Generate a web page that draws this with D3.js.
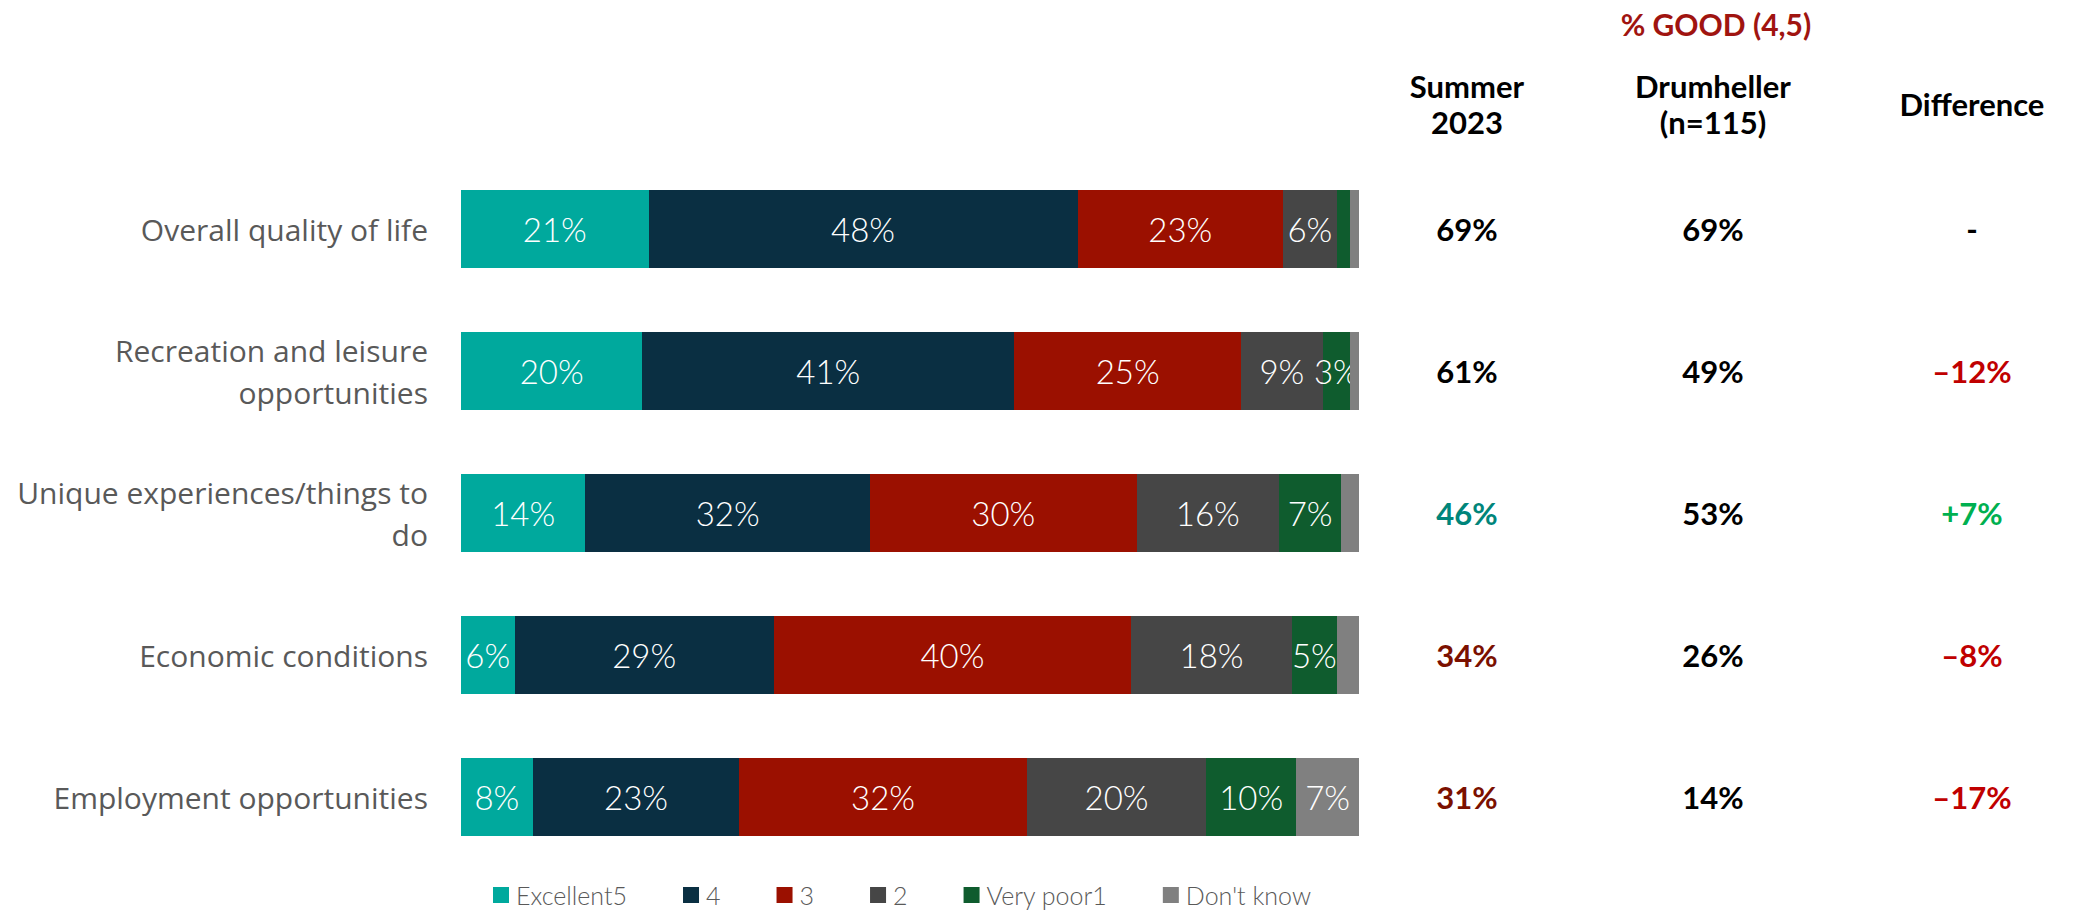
<!DOCTYPE html>
<html>
<head>
<meta charset="utf-8">
<script src="https://cdn.jsdelivr.net/npm/d3@7"></script>
<style>
  html, body { margin: 0; padding: 0; background: #ffffff; }
  svg { display: block; }
</style>
</head>
<body>
<svg id="chart" width="2073" height="913"></svg>
<script>
// Rating categories, top to bottom
const categories = [
  "Overall quality of life",
  "Recreation and leisure opportunities",
  "Unique experiences/things to do",
  "Economic conditions",
  "Employment opportunities"
];

// Response shares (%) per rating, one array per series
const seriesNames = ["Excellent5", "4", "3", "2", "Very poor1", "Don't know"];
const excellent5 = [21, 20, 14, 6, 8];
const rating4    = [48, 41, 32, 29, 23];
const rating3    = [23, 25, 30, 40, 32];
const rating2    = [6, 9, 16, 18, 20];
const veryPoor1  = [1.5, 3, 7, 5, 10];
const dontKnow   = [1, 1, 2, 2.5, 7];

// % good (4,5) comparison columns
const summer2023 = [69, 61, 46, 34, 31];
const summerFlag = ["", "", "up", "down", "down"];
const drumheller = [69, 49, 53, 26, 14];

const headerTitle = "% GOOD (4,5)";
const colSummer = ["Summer", "2023"];
const colDrum = ["Drumheller", "(n=115)"];
const colDiff = ["Difference"];

const seriesColors = ["#00a99d", "#0a2f42", "#9b1000", "#464646", "#0f5c2e", "#808080"];

// ---- build table for the stack layout
const allSeries = [excellent5, rating4, rating3, rating2, veryPoor1, dontKnow];
const rows = categories.map((c, i) => {
  const r = { category: c };
  seriesNames.forEach((s, j) => { r[s] = allSeries[j][i]; });
  return r;
});

const stack = d3.stack().keys(seriesNames).offset(d3.stackOffsetExpand);
const layers = stack(rows);

const svg = d3.select("#chart");

const x = d3.scaleLinear().domain([0, 1]).range([461, 1359]);
const y = d3.scaleBand().domain(categories).range([158, 868])
  .paddingInner(0.45).paddingOuter(0.225);

const color = d3.scaleOrdinal().domain(seriesNames).range(seriesColors);

// ---- stacked bars
const layerG = svg.append("g").selectAll("g")
  .data(layers).join("g")
  .attr("fill", d => color(d.key));

layerG.selectAll("rect")
  .data(d => d.map(p => ({ p, key: d.key })))
  .join("rect")
  .attr("x", d => x(d.p[0]))
  .attr("y", d => y(d.p.data.category))
  .attr("width", d => x(d.p[1]) - x(d.p[0]))
  .attr("height", y.bandwidth())
  .attr("shape-rendering", "crispEdges");

// ---- value labels inside segments (whole percentages of 3 or more)
layerG.selectAll("text")
  .data(d => d.map(p => ({ p, key: d.key, v: p.data[d.key] })).filter(d => d.v >= 3))
  .join("text")
  .attr("x", d => (x(d.p[0]) + x(d.p[1])) / 2)
  .attr("y", d => y(d.p.data.category) + y.bandwidth() / 2)
  .attr("text-anchor", "middle")
  .attr("dominant-baseline", "central")
  .attr("fill", "#ffffff")
  .style("font-family", "Lato, sans-serif")
  .style("font-weight", 300)
  .style("font-size", "33px")
  .text(d => d.v + "%");

// ---- category labels (wrapped, right aligned)
const catG = svg.append("g");
const labelFont = "30px 'Open Sans'";
const measureCtx = document.createElement("canvas").getContext("2d");
measureCtx.font = labelFont;
function wrap(text, maxW) {
  const words = text.split(" ");
  const lines = [];
  let line = "";
  words.forEach(w => {
    const t = line ? line + " " + w : w;
    if (measureCtx.measureText(t).width > maxW && line) { lines.push(line); line = w; }
    else line = t;
  });
  lines.push(line);
  return lines;
}
const lineGap = 42;
categories.forEach(c => {
  const lines = wrap(c, 428);
  const cy = y(c) + y.bandwidth() / 2;
  const t = catG.append("text")
    .attr("text-anchor", "end")
    .attr("fill", "#595959")
    .style("font-family", "'Open Sans', sans-serif")
    .style("font-size", "30px");
  lines.forEach((l, i) => {
    t.append("tspan")
      .attr("x", 428)
      .attr("y", cy + (i - (lines.length - 1) / 2) * lineGap)
      .attr("dominant-baseline", "central")
      .text(l);
  });
});

// ---- comparison columns
const colX = { summer: 1467, drum: 1713, diff: 1972 };
const boldFont = "Lato, sans-serif";

svg.append("text")
  .attr("x", 1716).attr("y", 24)
  .attr("text-anchor", "middle").attr("dominant-baseline", "central")
  .attr("fill", "#a01410")
  .style("font-family", boldFont).style("font-weight", 700).style("font-size", "30px")
  .text(headerTitle);

function header(lines, cx) {
  const t = svg.append("text")
    .attr("text-anchor", "middle").attr("fill", "#000000")
    .style("font-family", boldFont).style("font-weight", 700).style("font-size", "31px");
  const mid = 104, gap = 36;
  lines.forEach((l, i) => {
    t.append("tspan").attr("x", cx)
      .attr("y", mid + (i - (lines.length - 1) / 2) * gap)
      .attr("dominant-baseline", "central")
      .text(l);
  });
}
header(colSummer, colX.summer);
header(colDrum, colX.drum);
header(colDiff, colX.diff);

const flagColor = { "": "#000000", up: "#00857a", down: "#7b1000" };
const valueStyle = sel => sel
  .attr("text-anchor", "middle").attr("dominant-baseline", "central")
  .style("font-family", boldFont).style("font-weight", 700).style("font-size", "31px");

svg.append("g").selectAll("text")
  .data(categories).join("text")
  .call(valueStyle)
  .attr("x", colX.summer)
  .attr("y", c => y(c) + y.bandwidth() / 2)
  .attr("fill", (c, i) => flagColor[summerFlag[i]])
  .text((c, i) => summer2023[i] + "%");

svg.append("g").selectAll("text")
  .data(categories).join("text")
  .call(valueStyle)
  .attr("x", colX.drum)
  .attr("y", c => y(c) + y.bandwidth() / 2)
  .attr("fill", "#000000")
  .text((c, i) => drumheller[i] + "%");

const diffs = drumheller.map((v, i) => v - summer2023[i]);
svg.append("g").selectAll("text")
  .data(categories).join("text")
  .call(valueStyle)
  .attr("x", colX.diff)
  .attr("y", c => y(c) + y.bandwidth() / 2)
  .attr("fill", (c, i) => diffs[i] > 0 ? "#00b050" : diffs[i] < 0 ? "#c00000" : "#000000")
  .text((c, i) => diffs[i] > 0 ? "+" + diffs[i] + "%" : diffs[i] < 0 ? "\u2013" + Math.abs(diffs[i]) + "%" : "-");

// ---- legend
const legend = svg.append("g");
const legendY = 895, sq = 16, legendGap = 56;
let lx = 493;
seriesNames.forEach(s => {
  const g = legend.append("g").attr("transform", `translate(${lx},0)`);
  g.append("rect").attr("x", 0).attr("y", legendY - sq / 2)
    .attr("width", sq).attr("height", sq).attr("fill", color(s));
  const t = g.append("text").attr("x", sq + 7).attr("y", legendY)
    .attr("dominant-baseline", "central").attr("fill", "#595959")
    .style("font-family", "Lato, sans-serif").style("font-weight", 300).style("font-size", "25px")
    .text(s);
  lx += sq + 7 + t.node().getComputedTextLength() + legendGap;
});
</script>
</body>
</html>
